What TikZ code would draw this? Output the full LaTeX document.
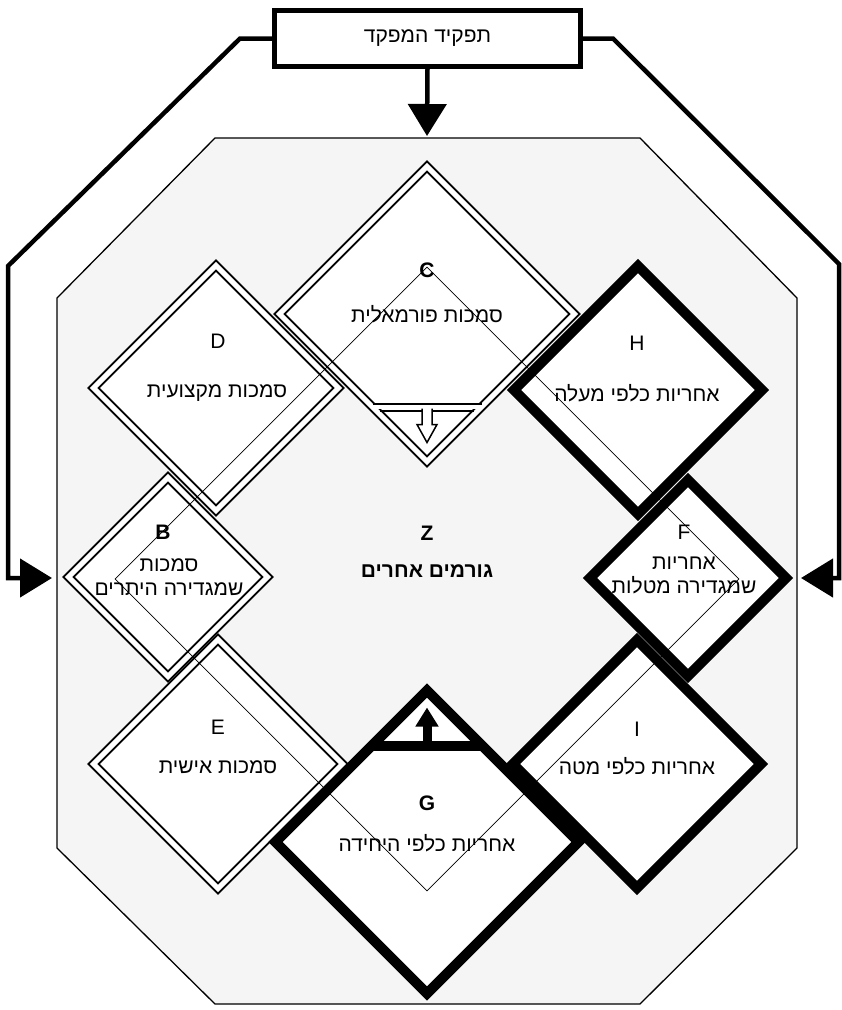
\documentclass[tikz,border=0pt]{standalone}
\usepackage{fontspec}
\setmainfont{Liberation Sans}
\newfontfamily\hebfont[Script=Hebrew]{Liberation Sans}
\TeXXeTstate=1
\usetikzlibrary{arrows.meta,calc,shapes.geometric}

\begin{document}
\begin{tikzpicture}[x=1pt,y=-1pt,
  link/.style={line width=4.5pt,-{Triangle[length=32pt,width=38pt]}},
  dbl/.style={diamond,draw,fill=white,line width=2pt,double,double distance=5pt,
              inner sep=0pt,outer sep=0pt},
  thk/.style={diamond,draw,fill=white,line width=10pt,inner sep=0pt,outer sep=0pt},
  lbl/.style={font=\fontsize{21}{23}\selectfont},
  lblb/.style={font=\bfseries\fontsize{21}{23}\selectfont},
  heb/.style={font=\hebfont\fontsize{21}{24}\selectfont,align=center}]
\useasboundingbox (0,0) rectangle (842,1010);
\draw[line width=1.3pt,fill=black!4] (215,138) -- (640,138) -- (797,298) -- (797,848)
  -- (640,1004) -- (215,1004) -- (57,848) -- (57,298) -- cycle;
\node[draw,fill=white,line width=4.5pt,minimum width=306pt,minimum height=56pt,heb]
  (cmd) at (427.5,38.5) {\beginR תפקיד המפקד\endR};
\coordinate (inN) at (427,136);
\coordinate (inW) at (52,578);
\coordinate (inE) at (801,578);
\draw[link] (cmd.south) -- (inN);
\draw[link] (cmd.west) -- (240,38.5) -- (8,266) |- (inW);
\draw[link] (cmd.east) -- (613,38.5) -- (839,264) |- (inE);

\node[dbl,minimum size=295pt] (C) at (427,314) {};
\node[dbl,minimum size=199pt] (B) at (168,577) {};
\node[dbl,minimum size=245pt] (D) at (216,388) {};
\node[dbl,minimum size=249pt] (E) at (218,764) {};
\node[thk,minimum size=248pt] (H) at (638,390) {};
\node[thk,minimum size=196pt] (F) at (688,578) {};
\node[thk,minimum size=248pt] (I) at (637,764) {};
\node[thk,minimum size=303pt] (G) at (427,842) {};

\coordinate (Cs) at (C.south);
\fill[white] ($(Cs)+(-55,-57)$) rectangle ($(Cs)+(55,-53)$);
\draw[line width=2pt] ($(Cs)+(-54.5,-57.6)$) -- ($(Cs)+(54.5,-57.6)$);
\draw[line width=2pt] ($(Cs)+(-47,-50.6)$) -- ($(Cs)+(47,-50.6)$);
\filldraw[fill=white,line width=1.5pt] ($(Cs)+(-5,-53)$) -- ++(0,16) -- ++(-5,0)
  -- ++(10,18) -- ++(10,-18) -- ++(-5,0) -- ++(0,-16);
\draw[line width=10pt] ($(G.north)+(-55,55)$) -- ($(G.north)+(55,55)$);
\draw[line width=9pt,-{Triangle[length=19pt,width=22pt]}] ($(G.north)+(0,52)$)
  -- ($(G.north)+(0,17)$);

\node[diamond,draw,line width=0.8pt,minimum size=624pt,inner sep=0pt] (ring) at (427,579) {};

\node[lblb] (lC) at (427,270) {C};
\node[heb] (tC) at (427,314) {\beginR סמכות פורמאלית\endR};
\node[lbl] (lD) at (218,341) {D};
\node[heb] (tD) at (217,393) {\beginR סמכות מקצועית\endR};
\node[lbl] (lH) at (637,343) {H};
\node[heb] (tH) at (637,393) {\beginR אחריות כלפי מעלה\endR};
\node[lblb] (lB) at (163,532) {B};
\node[heb] (tB) at (169,577) {\beginR סמכות\endR\\\beginR שמגדירה היתרים\endR};
\node[lbl] (lF) at (684,532) {F};
\node[heb] (tF) at (684,575) {\beginR אחריות\endR\\\beginR שמגדירה מטלות\endR};
\node[lblb] (lZ) at (427,533) {Z};
\node[heb,font=\hebfont\bfseries\fontsize{21}{24}\selectfont] (tZ) at (427,571)
  {\beginR גורמים אחרים\endR};
\node[lbl] (lE) at (218,727) {E};
\node[heb] (tE) at (218,767) {\beginR סמכות אישית\endR};
\node[lbl] (lI) at (637,729) {I};
\node[heb] (tI) at (637,766) {\beginR אחריות כלפי מטה\endR};
\node[lblb] (lG) at (427,803) {G};
\node[heb] (tG) at (427,843) {\beginR אחריות כלפי היחידה\endR};
\end{tikzpicture}
\end{document}
